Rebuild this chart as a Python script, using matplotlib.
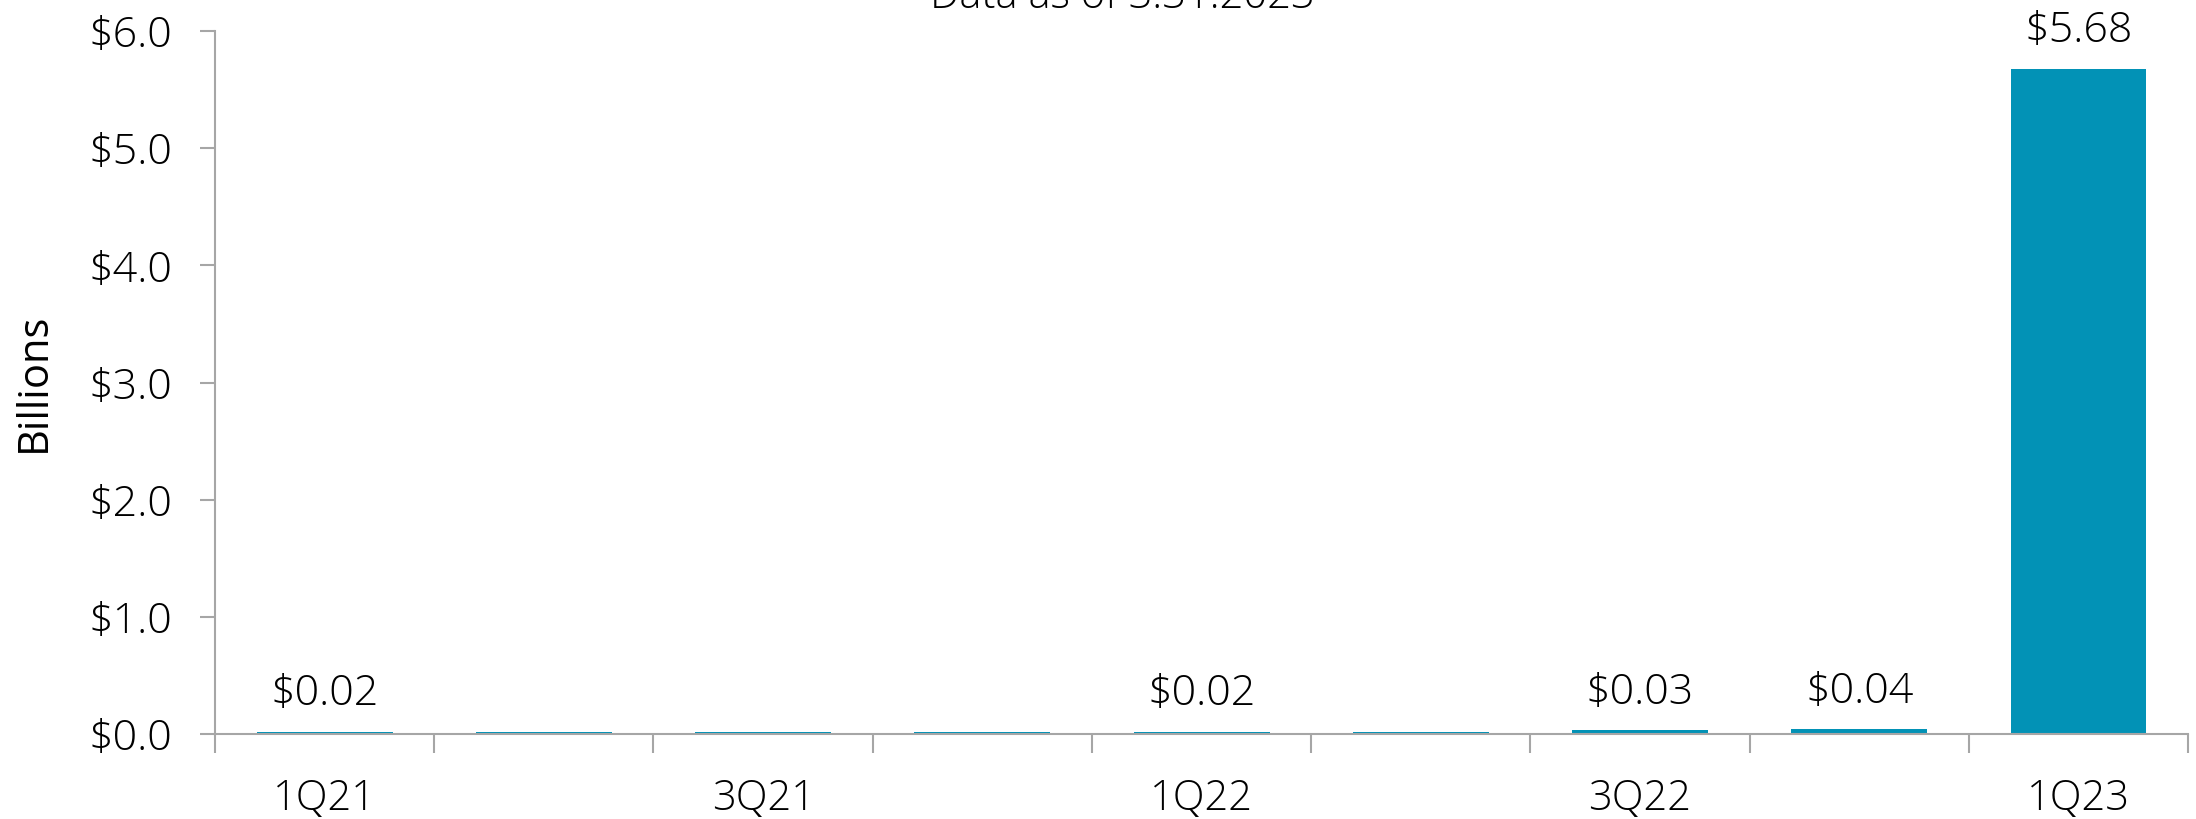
import matplotlib.pyplot as plt
from matplotlib.ticker import FuncFormatter, FixedLocator

quarters = ['1Q21', '2Q21', '3Q21', '4Q21', '1Q22', '2Q22', '3Q22', '4Q22', '1Q23']
values = [0.02, 0.02, 0.02, 0.02, 0.02, 0.02, 0.03, 0.04, 5.68]
shown_labels = ['$0.02', '', '', '', '$0.02', '', '$0.03', '$0.04', '$5.68']
shown_ticks = ['1Q21', '', '3Q21', '', '1Q22', '', '3Q22', '', '1Q23']
y_ticks = [0.0, 1.0, 2.0, 3.0, 4.0, 5.0, 6.0]

plt.rcParams['font.family'] = ['Open Sans', 'DejaVu Sans']
bar_color = '#0292b6'
axis_color = '#a6a6a6'

fig = plt.figure(figsize=(21.96, 8.19), dpi=100)
ax = fig.add_axes([0.0979, 0.1038, 0.8985, 0.8583])

x = list(range(len(quarters)))
bars = ax.bar(x, values, width=0.62, color=bar_color)
ax.bar_label(bars, labels=shown_labels, padding=12, fontsize=31, fontweight='light')

ax.set_xlim(-0.5, len(quarters) - 0.5)
ax.set_ylim(0, 6.0)

# tick marks sit between the categories, labels at the centres
ax.xaxis.set_major_locator(FixedLocator([i - 0.5 for i in range(len(quarters) + 1)]))
ax.xaxis.set_major_formatter(FuncFormatter(lambda v, p: ''))
ax.xaxis.set_minor_locator(FixedLocator(x))
ax.set_xticklabels(shown_ticks, minor=True)
ax.tick_params(axis='x', which='major', direction='out', length=14, width=1.5, color=axis_color)
ax.tick_params(axis='x', which='minor', length=0, pad=31, labelsize=30)
for lbl in ax.get_xticklabels(minor=True):
    lbl.set_fontweight('light')

ax.set_yticks(y_ticks)
ax.yaxis.set_major_formatter(FuncFormatter(lambda v, p: '${:.1f}'.format(v)))
ax.tick_params(axis='y', direction='out', length=11, width=1.5, color=axis_color,
               pad=20, labelsize=31)
for lbl in ax.get_yticklabels():
    lbl.set_fontweight('light')

for side in ['top', 'right']:
    ax.spines[side].set_visible(False)
for side in ['left', 'bottom']:
    ax.spines[side].set_color(axis_color)
    ax.spines[side].set_linewidth(1.5)

fig.text(0.0155, 0.5330, 'Billions', rotation=90, ha='center', va='center', fontsize=30)
fig.text(0.511, 1 - 8 / 819, 'Data as of 3.31.2023', ha='center', va='baseline',
         fontsize=30, fontweight='light')

fig.savefig('out.png', dpi=100)
